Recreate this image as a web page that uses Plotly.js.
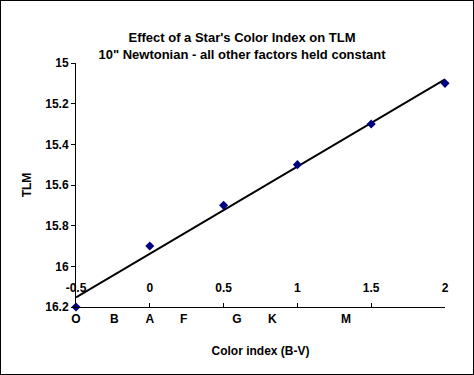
<!DOCTYPE html>
<html>
<head>
<meta charset="utf-8">
<script src="https://cdn.plot.ly/plotly-3.0.1.min.js"></script>
<style>
  html, body { margin: 0; padding: 0; background: #fff; }
  #wrap { position: relative; width: 474px; height: 375px; }
  #chart { position: absolute; left: 0; top: 0; width: 474px; height: 375px; }
  #frame { position: absolute; left: 0; top: 0; width: 474px; height: 375px; box-sizing: border-box; border: 1px solid #000; pointer-events: none; }
</style>
</head>
<body>
<div id="wrap"><div id="chart"></div><div id="frame"></div></div>
<script>
// Data
const colorIndex = [-0.5, 0, 0.5, 1, 1.5, 2];
const tlm = [16.2, 15.9, 15.7, 15.5, 15.3, 15.1];

// Spectral class labels shown under the axis
const spectralClasses = ['O', 'B', 'A', 'F', 'G', 'K', 'M'];
const spectralPositions = [-0.5, -0.24, 0, 0.23, 0.59, 0.83, 1.33];

const xTicks = [-0.5, 0, 0.5, 1, 1.5, 2];
const xTickText = ['-0.5', '0', '0.5', '1', '1.5', '2'];
const yTicks = [15, 15.2, 15.4, 15.6, 15.8, 16, 16.2];
const yTickText = ['15', '15.2', '15.4', '15.6', '15.8', '16', '16.2'];

// Linear (least squares) trendline through the data, as in the spreadsheet chart
const n = colorIndex.length;
const mx = colorIndex.reduce((a, b) => a + b, 0) / n;
const my = tlm.reduce((a, b) => a + b, 0) / n;
let sxy = 0, sxx = 0;
for (let i = 0; i < n; i++) { sxy += (colorIndex[i] - mx) * (tlm[i] - my); sxx += (colorIndex[i] - mx) ** 2; }
const slope = sxy / sxx, intercept = my - slope * mx;
const trendX = [colorIndex[0], colorIndex[n - 1]];
const trendY = trendX.map(x => intercept + slope * x);

const F = 'Liberation Sans, Arial, sans-serif';
const bold = { family: F, size: 12, color: '#000', weight: 'bold' };

const traces = [
  { x: trendX, y: trendY, mode: 'lines', line: { color: '#000', width: 2 }, hoverinfo: 'skip', showlegend: false, cliponaxis: false },
  { x: colorIndex, y: tlm, mode: 'markers', marker: { symbol: 'diamond', size: 7, color: '#000080' }, showlegend: false, cliponaxis: false },
  { x: [spectralPositions[0]], y: [16.2], xaxis: 'x2', mode: 'markers', marker: { opacity: 0 }, showlegend: false, hoverinfo: 'skip' }
];

const layout = {
  width: 474, height: 375,
  margin: { l: 76, r: 29, t: 63, b: 68 },
  paper_bgcolor: '#fff', plot_bgcolor: '#fff',
  showlegend: false,
  title: {
    text: "Effect of a Star's Color Index on TLM<br>10\" Newtonian - all other factors held constant",
    font: { family: F, size: 13, color: '#000', weight: 'bold' },
    x: 242 / 474, xanchor: 'center', xref: 'container',
    y: 1 - 42 / 375, yanchor: 'middle', yref: 'container'
  },
  xaxis: {
    range: [-0.5, 2], tickvals: xTicks, ticktext: xTickText,
    showgrid: false, zeroline: false, showline: true, linecolor: '#000', linewidth: 1,
    ticks: 'inside', ticklen: 4, tickcolor: '#000',
    ticklabelposition: 'inside', ticklabeloverflow: 'allow', ticklabelstandoff: 8,
    tickfont: bold, fixedrange: true
  },
  xaxis2: {
    overlaying: 'x', anchor: 'y', side: 'bottom', matches: 'x',
    range: [-0.5, 2], tickvals: spectralPositions, ticktext: spectralClasses,
    showgrid: false, zeroline: false, showline: false, ticks: '',
    tickfont: bold, ticklabelstandoff: 3,
    title: { text: 'Color index (B-V)', font: bold, standoff: 21 }
  },
  yaxis: {
    range: [16.2, 15], tickvals: yTicks, ticktext: yTickText,
    showgrid: false, zeroline: false, showline: true, linecolor: '#000', linewidth: 1,
    ticks: 'outside', ticklen: 4, tickcolor: '#000',
    tickfont: bold,
    title: { text: 'TLM', font: bold, standoff: 11 }
  }
};

Plotly.newPlot('chart', traces, layout, { staticPlot: true, displayModeBar: false });
</script>
</body>
</html>
